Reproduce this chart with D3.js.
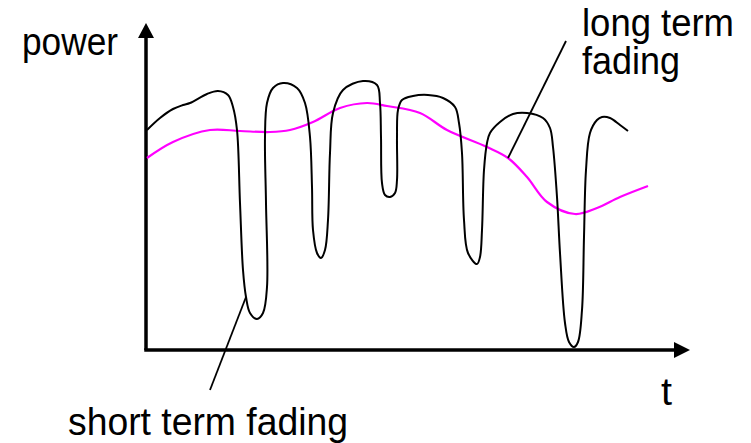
<!DOCTYPE html>
<html>
<head>
<meta charset="utf-8">
<script src="https://cdn.jsdelivr.net/npm/d3@7"></script>
<style>
  html, body { margin: 0; padding: 0; background: #fff; }
  svg { display: block; }
  text { font-family: "Liberation Sans", Arial, Helvetica, sans-serif; fill: #000; }
</style>
</head>
<body>
<svg id="chart" width="751" height="443"></svg>
<script>
// ---- data (t, power in arbitrary units) ----
const shortT = [1,14,27,37,44,61,72,82,87,91,94,97,100,104,111,117,121,120,119,121,127,137,151,159,164,166,167,171,175,179,182,184,187,197,217,231,234,235,236,239,244,249,251,251,252,256,267,282,297,309,313,316,318,322,331,334,336,338,341,344,354,367,381,397,404,407,411,414,419,423,428,432,436,438,440,444,451,456,464,474,482];
const shortP = [220,232,241,245,247,256,259,255,243,220,147,80,53,37,31,37,63,147,213,247,262,267,262,247,213,163,120,97,92,100,130,197,237,260,269,265,247,213,167,155,153,157,170,213,240,250,254,255,252,243,227,197,130,97,86,93,120,180,207,217,228,236,237,232,222,203,153,97,27,8,3,8,40,113,180,217,230,233,232,225,219];

const longT = [1,27,64,94,124,144,167,194,221,241,274,301,341,362,381,401,429,451,474,502];
const longP = [192,208,220,219,218,220,228,242,247,244,237,220,203,192,173,148,136,142,153,164];

const labelPower = "power";
const labelT = "t";
const labelLong = ["long term", "fading"];
const labelShort = "short term fading";

// annotation pointer lines: [t0,p0,t1,p1]
const shortPointer = [100, 53, 64, -40];
const longPointer = [362, 192, 420, 309];

// ---- scales ----
const x = d3.scaleLinear().domain([0, 544]).range([146, 690]);
const y = d3.scaleLinear().domain([0, 327]).range([350, 23]);

const svg = d3.select("#chart");

// axes
const ax = svg.append("g");
ax.append("line")
  .attr("x1", x(0)).attr("y1", y(0))
  .attr("x2", x(0)).attr("y2", y(327) + 12)
  .attr("stroke", "#000").attr("stroke-width", 3.5);
ax.append("path")
  .attr("d", `M${x(0)},${y(327)} L${x(0) - 8},${y(327) + 15} L${x(0) + 8},${y(327) + 15} Z`)
  .attr("fill", "#000");
ax.append("line")
  .attr("x1", x(0) - 1.75).attr("y1", y(0))
  .attr("x2", x(544) - 12).attr("y2", y(0))
  .attr("stroke", "#000").attr("stroke-width", 3.5);
ax.append("path")
  .attr("d", `M${x(544)},${y(0)} L${x(544) - 16},${y(0) - 8} L${x(544) - 16},${y(0) + 8} Z`)
  .attr("fill", "#000");

// curves
const line = d3.line()
  .x(d => x(d[0])).y(d => y(d[1]))
  .curve(d3.curveCatmullRom.alpha(0.5));

const longData = longT.map((t, i) => [t, longP[i]]);
const shortData = shortT.map((t, i) => [t, shortP[i]]);

svg.append("path")
  .attr("d", line(longData))
  .attr("fill", "none").attr("stroke", "#ff00ff").attr("stroke-width", 2.2);

svg.append("path")
  .attr("d", line(shortData))
  .attr("fill", "none").attr("stroke", "#000").attr("stroke-width", 2)
  .attr("stroke-linejoin", "round");

// pointers
[shortPointer, longPointer].forEach(p => {
  svg.append("line")
    .attr("x1", x(p[0])).attr("y1", y(p[1]))
    .attr("x2", x(p[2])).attr("y2", y(p[3]))
    .attr("stroke", "#000").attr("stroke-width", 1.8);
});

// labels
function label(txt, px, py, len) {
  const t = svg.append("text").attr("x", px).attr("y", py).attr("font-size", 38).text(txt);
  if (len) t.attr("textLength", len).attr("lengthAdjust", "spacingAndGlyphs");
}
label(labelPower, 22, 55, 96);
label(labelT, 661, 405, 11);
label(labelLong[0], 582, 36, 152);
label(labelLong[1], 582, 74, 98);
label(labelShort, 68, 435, 280);
</script>
</body>
</html>
